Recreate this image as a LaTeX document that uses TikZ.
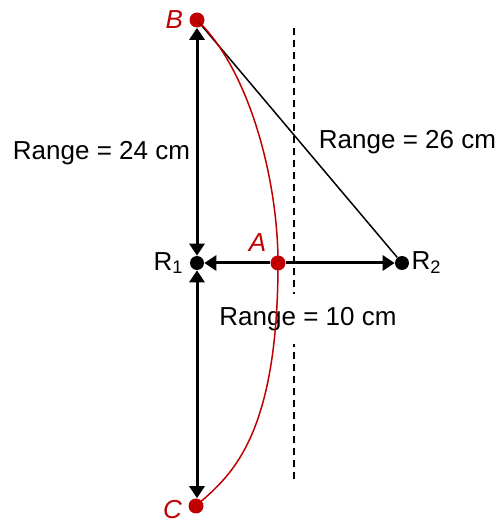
\documentclass[tikz,border=0pt]{standalone}
\usepackage{fontspec}
\setmainfont{Liberation Sans}
\usepackage{xcolor}
\usetikzlibrary{positioning,arrows.meta,calc}
\definecolor{signal}{HTML}{C00000}

\begin{document}
\begin{tikzpicture}[
    font=\fontsize{14.8}{17}\selectfont,
    dot/.style={circle, fill=black, inner sep=0pt, minimum size=0.28cm},
    reddot/.style={circle, fill=signal, inner sep=0pt, minimum size=0.3cm},
    redlbl/.style={text=signal, font=\fontsize{14.8}{17}\selectfont\itshape},
    arrow/.style={-{Triangle[length=0.24cm, width=0.3cm]}, line width=0.06cm, draw=black},
    twoarrow/.style={{Triangle[length=0.24cm, width=0.3cm]}-{Triangle[length=0.24cm, width=0.3cm]}, line width=0.06cm, draw=black},
    curve/.style={draw=signal, line width=0.03cm},
    rangelbl/.style={inner sep=2pt}
]
    \useasboundingbox (0,0) rectangle (10,10.44);

    % Receivers
    \node[dot, label=left:R\textsubscript{1}] (r1) at (3.94,5.18) {};
    \node[dot, label={[xshift=-0.08cm]right:R\textsubscript{2}}] (r2) at (8.04,5.18) {};

    % Points on the curve
    \node[reddot, label={[redlbl]left:B}] (b) at (3.94,10.04) {};
    \node[reddot, label={[redlbl]above left:A}] (a) at (5.56,5.18) {};
    \node[reddot, label={[redlbl, yshift=-0.08cm]left:C}] (c) at (3.92,0.32) {};

    % Dashed boundary
    \draw[dashed, dash pattern=on 0.14cm off 0.1cm, line width=0.03cm] (5.88,9.88) -- (5.88,0.8);

    % Range labels
    \node[rangelbl] (range24) at (2.03,7.38) {Range = 24 cm};
    \node[rangelbl] (range26) at (8.15,7.6) {Range = 26 cm};
    \node[rangelbl, fill=white, inner ysep=0.27cm] (range10) at (6.16,4.06) {Range = 10 cm};

    % Arrows
    \draw[twoarrow] (r1) -- (b);
    \draw[twoarrow] (r1) -- (r1 |- c.north);
    \draw[arrow] (a) -- (r1);
    \draw[arrow] (a) -- (r2);
    \draw[line width=0.03cm] (b.center) -- (r2);

    % Curve through B, A and C
    \draw[curve] (b.center) .. controls +(1.05,-1.0) and +(0,1.66) .. (a.center)
        .. controls +(0,-3.6) and +(0.62,0.56) .. (c.center);
\end{tikzpicture}
\end{document}
